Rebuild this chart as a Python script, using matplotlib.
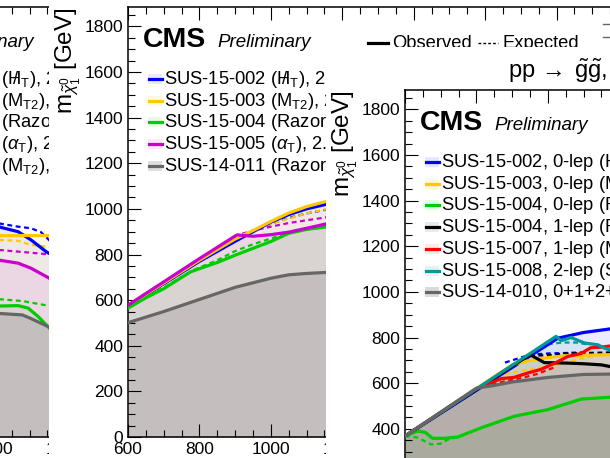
import matplotlib
matplotlib.use("Agg")
import matplotlib.pyplot as plt
from matplotlib.patches import Rectangle
from matplotlib.ticker import MultipleLocator

plt.rcParams["font.family"] = ["Liberation Sans", "DejaVu Sans"]
plt.rcParams["mathtext.fontset"] = "custom"
plt.rcParams["mathtext.rm"] = "Liberation Sans"
plt.rcParams["mathtext.it"] = "Liberation Sans:italic"
plt.rcParams["mathtext.bf"] = "Liberation Sans:bold"

W, H = 610, 458
XLIM = (600, 2000)
YLIM = (0, 1885)

# ---- left panel (gluino -> b b chi, only its right edge shows)
a_blue_obs = ([1000, 1012, 1068, 1104, 1146, 1160], [928, 922, 900, 864, 813, 800])
a_blue_exp = ([1000, 1012, 1068, 1104, 1132, 1160], [940, 937, 922, 915, 898, 855])
a_yellow_obs = ([1000, 1160], [886, 886])
a_yellow_exp = ([1000, 1012, 1068, 1104, 1160], [866, 864, 860, 842, 832])
a_green_obs = ([1000, 1012, 1068, 1096, 1124, 1160], [572, 574, 576, 565, 528, 470])
a_green_exp = ([1000, 1080, 1140, 1160], [606, 596, 579, 574])
a_magenta_obs = ([1000, 1012, 1068, 1104, 1160], [778, 776, 762, 740, 692])
a_magenta_exp = ([1000, 1160], [822, 800])
a_gray_obs = ([1000, 1012, 1080, 1100, 1160], [544, 542, 535, 522, 478])

# ---- middle panel
b_blue_obs = ([600, 700, 800, 900, 950, 1000, 1050, 1100, 1160], [572, 672, 770, 858, 900, 942, 975, 1000, 1022])
b_blue_exp = ([600, 800, 900, 950, 1000, 1050, 1100, 1160], [572, 770, 858, 900, 935, 960, 980, 998])
b_yellow_obs = ([600, 700, 800, 900, 950, 1000, 1050, 1100, 1160], [575, 675, 775, 868, 905, 945, 982, 1010, 1035])
b_yellow_exp = ([600, 800, 900, 1000, 1100, 1160], [574, 772, 862, 935, 980, 1000])
b_green_obs = ([600, 650, 700, 775, 850, 900, 950, 1000, 1050, 1100, 1160], [565, 610, 650, 724, 765, 797, 827, 857, 893, 910, 922])
b_green_exp = ([600, 700, 780, 850, 900, 950, 1000, 1050, 1160], [567, 655, 730, 775, 815, 845, 870, 895, 926])
b_magenta_obs = ([600, 700, 800, 905, 950, 1000, 1050, 1100, 1160], [578, 680, 782, 886, 880, 887, 898, 915, 936])
b_magenta_exp = ([600, 800, 905, 950, 1000, 1050, 1100, 1160], [577, 780, 884, 905, 922, 938, 950, 964])
b_gray_obs = ([600, 700, 800, 900, 1000, 1050, 1100, 1160], [501, 550, 603, 656, 696, 711, 717, 722])

# ---- right panel (gluino -> t t chi)
c_blue_obs = ([600, 1028, 1100, 1190], [368, 797, 822, 841])
c_blue_exp = ([880, 950, 1000, 1046, 1100], [690, 725, 730, 732, 735])
c_yellow_obs = ([600, 900, 950, 1000, 1050, 1100, 1190], [368, 680, 700, 712, 720, 722, 725])
c_yellow_exp = ([880, 943, 1000, 1046, 1140], [640, 659, 672, 688, 724])
c_green_obs = ([600, 636, 657, 677, 710, 748, 813, 906, 1000, 1093, 1190], [368, 390, 384, 358, 358, 364, 404, 455, 484, 530, 540])
c_green_exp = ([600, 636, 673, 701, 720, 760], [368, 361, 331, 335, 352, 370])
c_black_obs = ([600, 950, 990, 1050, 1100, 1150, 1190], [368, 725, 690, 688, 685, 680, 668])
c_black_exp = ([950, 1000, 1050, 1100, 1190], [720, 722, 730, 732, 735])
c_red_obs = ([600, 800, 830, 870, 905, 945, 980, 1020, 1056, 1093, 1120, 1150, 1190], [368, 575, 595, 620, 625, 645, 660, 688, 717, 730, 755, 758, 766])
c_red_exp = ([820, 870, 920, 970, 1020], [585, 605, 620, 640, 670])
c_teal_obs = ([600, 1023, 1037, 1065, 1102, 1140, 1158, 1190], [368, 805, 786, 800, 776, 768, 754, 736])
c_teal_exp = ([1000, 1040, 1080, 1110], [770, 778, 778, 770])
c_gray_obs = ([600, 800, 850, 900, 1000, 1100, 1190], [368, 578, 590, 605, 625, 638, 640])

HT = r"H$\!\!\!/\,$$_{\rm T}$"
MT2 = r"M$_{\rm T2}$"
FB = r"fb$^{-1}$"
a_labels = [f"SUS-15-002 ({HT}), 2.2 {FB}", f"SUS-15-003 ({MT2}), 2.2 {FB}",
            f"SUS-15-004 (Razor), 2.1 {FB}", rf"SUS-15-005 ($\alpha_{{\rm T}}$), 2.2 {FB}",
            f"SUS-13-019 ({MT2}), 19.5 {FB}"]
b_labels = a_labels[:4] + [f"SUS-14-011 (Razor), 19.3 {FB}"]
c_labels = [f"SUS-15-002, 0-lep ({HT}), 2.2 {FB}", f"SUS-15-003, 0-lep ({MT2}), 2.2 {FB}",
            f"SUS-15-004, 0-lep (Razor), 2.1 {FB}", f"SUS-15-004, 1-lep (Razor), 2.1 {FB}",
            rf"SUS-15-007, 1-lep (M$_{{\rm J}}$), 2.2 {FB}", f"SUS-15-008, 2-lep (SS), 2.2 {FB}",
            f"SUS-14-010, 0+1+2+3+4-lep, 19.5 {FB}"]
b_title = r"pp $\!\rightarrow\;\tilde{\rm g}\tilde{\rm g}$, $\tilde{\rm g}\!\rightarrow\! {\rm b}\bar{\rm b}\tilde{\chi}^{0}_{1}$   NLO+NLL exclusion"
c_title = r"pp $\!\rightarrow\;\tilde{\rm g}\tilde{\rm g}$, $\tilde{\rm g}\!\rightarrow\! {\rm t}\bar{\rm t}\tilde{\chi}^{0}_{1}$   NLO+NLL exclusion"

BLUE, YELLOW, GREEN, MAGENTA = "#0000ff", "#ffc800", "#00cc00", "#cc00cc"
GRAY, BLACK, RED, TEAL = "#666666", "#000000", "#ff0000", "#009999"
LEG_FS = 13.2

fig = plt.figure(figsize=(W / 100, H / 100), dpi=100)


def panel(ox, oy, z, curves, labels, title, leg_dx=0):
    # each panel is one pasted image: opaque white from its corner onwards
    bg = fig.add_axes([ox / W, 0, 1 - ox / W, 1 - oy / H], zorder=z)
    bg.set_xticks([])
    bg.set_yticks([])
    for s in bg.spines.values():
        s.set_visible(False)
    ax = fig.add_axes([(ox + 79) / W, 1 - (oy + 473) / H, 500 / W, 430 / H], zorder=z + 1)
    T = fig.transFigure

    def at(rx, ry):
        return (ox + rx) / W, 1 - (oy + ry) / H

    for obs, exp, col, alpha in curves:
        ax.fill_between(obs[0], 0, obs[1], color=col, alpha=alpha, lw=0, zorder=1)
    for obs, exp, col, alpha in curves:
        if exp is not None:
            ax.plot(exp[0], exp[1], color=col, lw=1.6, ls=(0, (2.2, 1.6)), zorder=3)
    for obs, exp, col, alpha in curves:
        ax.plot(obs[0], obs[1], color=col, lw=2.3, zorder=4, solid_joinstyle="round")

    ax.set_xlim(XLIM)
    ax.set_ylim(YLIM)
    ax.xaxis.set_major_locator(MultipleLocator(200))
    ax.xaxis.set_minor_locator(MultipleLocator(50))
    ax.yaxis.set_major_locator(MultipleLocator(200))
    ax.yaxis.set_minor_locator(MultipleLocator(50))
    ax.tick_params(which="both", direction="in", top=True, right=True, width=0.8,
                   labelsize=12.5, zorder=6)
    ax.tick_params(which="major", length=9.5, pad=3.5)
    ax.tick_params(which="minor", length=5)
    for s in ax.spines.values():
        s.set_linewidth(1.1)

    ax.text(*at(24, 43), r"m$_{\tilde{\chi}^{0}_{1}}$ [GeV]", transform=T, rotation=90,
            rotation_mode="anchor", ha="right", va="baseline", fontsize=17.5)
    ax.text(*at(94, 83), "CMS", transform=T, fontsize=20.5, fontweight="bold")
    ax.text(*at(168, 83), "Preliminary", transform=T, fontsize=13.5, style="italic")
    ax.text(*at(182, 30), title, transform=T, fontsize=17)

    # observed / expected key
    ax.plot([at(319, 79)[0], at(339, 79)[0]], [at(0, 79)[1]] * 2, color=BLACK, lw=2.3,
            transform=T, clip_on=False)
    ax.text(*at(343, 84), "Observed", transform=T, fontsize=LEG_FS)
    ax.plot([at(429, 79)[0], at(449, 79)[0]], [at(0, 79)[1]] * 2, color=BLACK, lw=1,
            ls=(0, (2, 1.5)), transform=T, clip_on=False)
    ax.text(*at(453, 84), "Expected", transform=T, fontsize=LEG_FS)
    for ry in (60, 73):
        ax.plot([at(554, ry)[0], at(590, ry)[0]], [at(0, ry)[1]] * 2, color=GRAY, lw=1,
                transform=T, clip_on=False)

    for i, (lab, (obs, exp, col, alpha)) in enumerate(zip(labels, curves)):
        ry = 115 + 21.7 * i
        x0, y0 = at(99 + leg_dx, ry + 5)
        ax.add_artist(Rectangle((x0, y0), 14 / W, 10 / H, transform=T, facecolor=col,
                                alpha=min(alpha * 1.2, 0.3), lw=0, clip_on=False))
        ax.plot([at(100 + leg_dx, ry)[0], at(113 + leg_dx, ry)[0]], [at(0, ry)[1]] * 2,
                color=col, lw=2.3, transform=T, clip_on=False)
        ax.text(*at(115 + leg_dx, ry), lab, transform=T, fontsize=LEG_FS, va="center")
    return ax


panel(-228, -36, 1,
      [(a_blue_obs, a_blue_exp, BLUE, 0.07), (a_yellow_obs, a_yellow_exp, YELLOW, 0.1),
       (a_green_obs, a_green_exp, GREEN, 0.08), (a_magenta_obs, a_magenta_exp, MAGENTA, 0.08),
       (a_gray_obs, None, GRAY, 0.18)],
      a_labels, b_title, leg_dx=8)
panel(49, -36, 3,
      [(b_blue_obs, b_blue_exp, BLUE, 0.07), (b_yellow_obs, b_yellow_exp, YELLOW, 0.1),
       (b_green_obs, b_green_exp, GREEN, 0.08), (b_magenta_obs, b_magenta_exp, MAGENTA, 0.08),
       (b_gray_obs, None, GRAY, 0.18)],
      b_labels, b_title)
panel(326, 47, 5,
      [(c_blue_obs, c_blue_exp, BLUE, 0.08), (c_yellow_obs, c_yellow_exp, YELLOW, 0.12),
       (c_green_obs, c_green_exp, GREEN, 0.08), (c_black_obs, c_black_exp, BLACK, 0.07),
       (c_red_obs, c_red_exp, RED, 0.08), (c_teal_obs, c_teal_exp, TEAL, 0.09),
       (c_gray_obs, None, GRAY, 0.2)],
      c_labels, c_title)

fig.savefig("out.png", dpi=100)
